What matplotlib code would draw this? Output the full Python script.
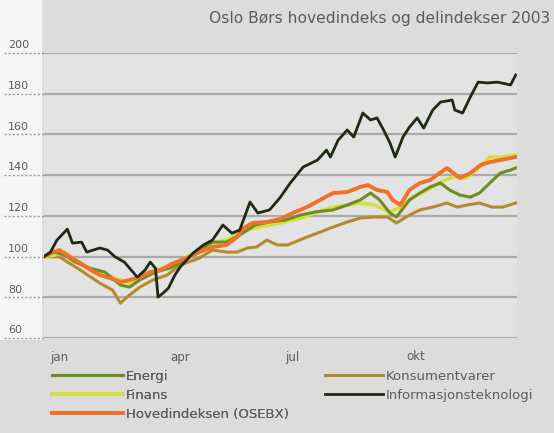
import matplotlib
matplotlib.use('Agg')
import matplotlib.pyplot as plt
import matplotlib.transforms as mtransforms
from matplotlib.patches import Rectangle

# day of year 2003 (0 = 2 jan) and index value (start = 100)
it_days = [0, 5, 10, 18, 22, 29, 33, 38, 43, 49, 55, 62, 72, 78, 82, 86, 88, 92, 96, 101,
           105, 115, 123, 130, 138, 145, 151, 159, 165, 174, 182, 190, 200, 211, 218, 221, 227, 234, 239, 246,
           252, 257, 262, 267, 271, 277, 282, 288, 293, 300, 306, 315, 317, 323, 329, 335, 342, 350, 360, 364]
it_vals = [100, 102.2, 108.1, 113.5, 106.6, 107.1, 102.2, 103.2, 104.2, 103.2,
           99.8, 97.3, 89.9, 93.4, 97.3, 94.3, 80.1, 82.1, 84.5, 90.9,
           94.8, 101.7, 105.7, 108.1, 115.5, 111.5, 113.0, 126.8, 121.4, 122.9,
           128.8, 136.1, 144.0, 147.4, 152.3, 148.9, 157.2, 162.2, 158.7, 170.5,
           167.1, 168.1, 162.2, 155.8, 148.9, 158.7, 163.6, 168.1, 163.1, 172.0,
           175.9, 176.9, 172.0, 170.5, 178.4, 185.7, 185.3, 185.7, 184.3, 189.2]

osebx_days = [0, 5, 12, 20, 28, 36, 43, 51, 59, 66, 74, 82, 90, 100, 110, 120, 130, 141, 149, 154,
              161, 172, 182, 192, 203, 213, 223, 234, 244, 250, 257, 265, 269, 275, 282, 290, 298, 303, 311, 316,
              321, 329, 337, 344, 352, 364]
osebx_vals = [100, 101.7, 103.2, 99.8, 96.8, 93.4, 90.9, 89.4, 87.5, 88.5,
              89.9, 92.4, 93.4, 96.8, 99.3, 102.2, 104.7, 105.7, 109.6, 114.0,
              116.5, 117.0, 118.4, 121.4, 124.3, 127.8, 131.2, 131.7, 134.2, 135.1,
              132.7, 131.7, 127.8, 125.3, 132.7, 136.1, 137.6, 140.0, 143.5, 141.0,
              138.6, 141.0, 145.0, 146.4, 147.4, 148.9]

finans_days = [0, 8, 16, 24, 35, 47, 59, 66, 74, 86, 97, 109, 120, 130, 141, 151, 163, 174, 186, 198,
               209, 223, 234, 244, 255, 267, 275, 285, 296, 306, 316, 326, 336, 344, 354, 364]
finans_vals = [100, 100.7, 102.2, 98.3, 94.3, 90.9, 88.5, 87.0, 89.4, 93.4,
               95.3, 99.3, 103.2, 106.6, 108.1, 112.0, 114.0, 115.5, 117.0, 118.9,
               121.4, 124.3, 125.3, 126.3, 125.3, 121.9, 124.3, 129.2, 132.7, 136.6,
               139.1, 138.6, 144.0, 148.9, 148.9, 149.9]

energi_days = [0, 8, 16, 24, 35, 47, 59, 66, 74, 86, 97, 109, 120, 130, 141, 151, 163, 174, 186, 198,
               209, 223, 234, 244, 252, 259, 267, 272, 282, 290, 298, 306, 313, 321, 329, 336, 344, 352, 360, 364]
energi_vals = [100, 102.2, 100.7, 97.3, 94.3, 92.4, 86.0, 85.0, 88.5, 92.4,
               94.3, 98.3, 103.2, 107.1, 107.1, 110.6, 115.5, 117.0, 117.9, 120.4,
               121.9, 122.9, 125.3, 127.8, 131.2, 127.8, 121.4, 119.4, 127.8, 131.2,
               134.2, 136.1, 132.7, 130.2, 129.2, 131.2, 136.1, 141.0, 142.5, 143.5]

kons_days = [0, 12, 28, 43, 53, 59, 64, 74, 84, 95, 105, 120, 130, 141, 149, 157, 164, 172, 180, 188,
             203, 213, 223, 234, 244, 254, 265, 272, 282, 290, 300, 311, 319, 326, 336, 346, 354, 364]
kons_vals = [100, 99.8, 93.4, 87.0, 83.5, 77.1, 80.1, 85.0, 88.5, 90.9,
             95.8, 99.3, 103.2, 102.2, 102.2, 104.2, 104.7, 108.1, 105.7, 105.7,
             109.6, 112.0, 114.5, 117.0, 118.9, 119.4, 119.4, 116.5, 120.4, 122.9,
             124.3, 126.3, 124.3, 125.3, 126.3, 124.3, 124.3, 126.3]

month_pos = [12, 105, 192, 287]
month_labels = ['jan', 'apr', 'jul', 'okt']
y_ticks = [60, 80, 100, 120, 140, 160, 180, 200]

title = 'Oslo Børs hovedindeks og delindekser 2003'
txt_col = '#5c5c5c'

fig = plt.figure(figsize=(5.54, 4.33), dpi=100, facecolor='#dcdcdc')
fig.patches.append(Rectangle((0, 1 - 340 / 433), 42 / 554, 340 / 433, transform=fig.transFigure,
                             facecolor='#f6f6f6', edgecolor='none', zorder=-5))
ax = fig.add_axes([44 / 554, 1 - 338 / 433, 473 / 554, 285 / 433])
ax.set_facecolor('#e3e3e3')

l_kons, = ax.plot(kons_days, kons_vals, color='#b38a2c', lw=2.2, label='Konsumentvarer')
l_fin, = ax.plot(finans_days, finans_vals, color='#d4e03c', lw=2.6, label='Finans')
l_ene, = ax.plot(energi_days, energi_vals, color='#6f8c22', lw=2.2, label='Energi')
l_ose, = ax.plot(osebx_days, osebx_vals, color='#f1702a', lw=2.8, label='Hovedindeksen (OSEBX)')
l_it, = ax.plot(it_days, it_vals, color='#1f2a14', lw=2.0, label='Informasjonsteknologi')

ax.set_xlim(0, 365)
ax.set_ylim(60, 200)
for s in ax.spines.values():
    s.set_visible(False)
ax.set_yticks(y_ticks)
ax.set_yticklabels([])
ax.grid(axis='y', color='#aaaaaa', lw=1.6)
ax.set_axisbelow(True)
ax.tick_params(axis='y', length=0)
ax.set_xticks(month_pos, month_labels)
ax.tick_params(axis='x', length=0, pad=9, labelsize=8.5, labelcolor=txt_col)

trans = mtransforms.blended_transform_factory(ax.transAxes, ax.transData)
for v in y_ticks:
    ax.plot([-0.085, 0], [v, v], transform=trans, clip_on=False, color='#9a9a9a',
            lw=1, ls=(0, (1.5, 1.5)))
    ax.annotate(str(v), xy=(0, v), xycoords=trans, xytext=(-26, 2), textcoords='offset points',
                ha='left', va='bottom', fontsize=8, color=txt_col, annotation_clip=False)

fig.text(550 / 554, 1 - 18 / 433, title, ha='right', va='center', fontsize=11.2, color=txt_col)

leg1 = fig.legend([l_ene, l_fin, l_ose], [l_ene.get_label(), l_fin.get_label(), l_ose.get_label()],
                  loc='upper left', bbox_to_anchor=(52 / 554, 1 - 370 / 433), frameon=False,
                  fontsize=9.5, borderpad=0, borderaxespad=0, handlelength=5.4, handletextpad=0.2,
                  labelspacing=0.45, labelcolor=txt_col)
leg2 = fig.legend([l_kons, l_it], [l_kons.get_label(), l_it.get_label()],
                  loc='upper left', bbox_to_anchor=(325 / 554, 1 - 370 / 433), frameon=False,
                  fontsize=9.5, borderpad=0, borderaxespad=0, handlelength=4.4, handletextpad=0.2,
                  labelspacing=0.45, labelcolor=txt_col)
fig.add_artist(leg1)

fig.savefig('out.png', dpi=100, facecolor=fig.get_facecolor())
